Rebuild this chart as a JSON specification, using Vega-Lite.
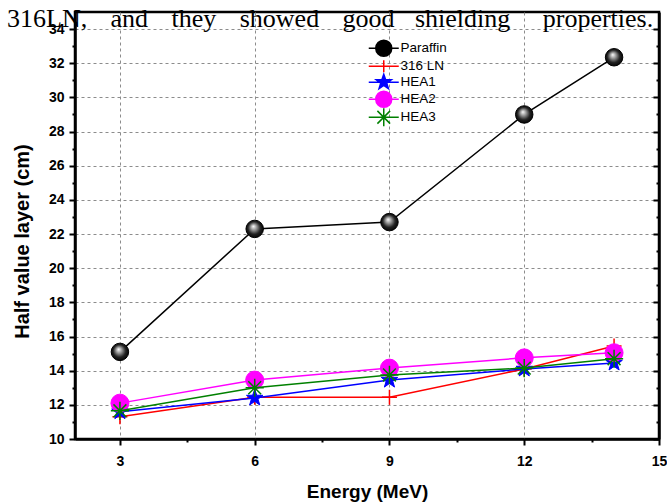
{
  "$schema": "https://vega.github.io/schema/vega-lite/v6.json",
  "width": 584,
  "height": 427,
  "autosize": {"type": "none"},
  "padding": {"left": 75, "top": 12, "right": 8, "bottom": 65},
  "background": "white",
  "title": {
    "text": "316LN,\u2002\u2009\u2009and\u2002\u2009\u2009they\u2002\u2009\u2009showed\u2002\u2009\u2009good\u2002\u2009\u200ashielding\u2002\u2002\u00a0properties.",
    "font": "Liberation Serif",
    "fontSize": 26,
    "fontWeight": "normal",
    "color": "black",
    "anchor": "start",
    "frame": "group",
    "dx": -68,
    "baseline": "alphabetic",
    "offset": -41
  },
  "config": {
    "view": {"stroke": "black", "strokeWidth": 2.5},
    "font": "Liberation Sans"
  },
  "data": {
    "values": [
      {"series": "Paraffin", "energy": 3, "hvl": 15.1},
      {"series": "Paraffin", "energy": 6, "hvl": 22.3},
      {"series": "Paraffin", "energy": 9, "hvl": 22.7},
      {"series": "Paraffin", "energy": 12, "hvl": 29.0},
      {"series": "Paraffin", "energy": 14, "hvl": 32.35},
      {"series": "316 LN", "energy": 3, "hvl": 11.3},
      {"series": "316 LN", "energy": 6, "hvl": 12.45},
      {"series": "316 LN", "energy": 9, "hvl": 12.45},
      {"series": "316 LN", "energy": 12, "hvl": 14.1},
      {"series": "316 LN", "energy": 14, "hvl": 15.45},
      {"series": "HEA1", "energy": 3, "hvl": 11.6},
      {"series": "HEA1", "energy": 6, "hvl": 12.4},
      {"series": "HEA1", "energy": 9, "hvl": 13.45},
      {"series": "HEA1", "energy": 12, "hvl": 14.1},
      {"series": "HEA1", "energy": 14, "hvl": 14.45},
      {"series": "HEA2", "energy": 3, "hvl": 12.1},
      {"series": "HEA2", "energy": 6, "hvl": 13.45},
      {"series": "HEA2", "energy": 9, "hvl": 14.15},
      {"series": "HEA2", "energy": 12, "hvl": 14.75},
      {"series": "HEA2", "energy": 14, "hvl": 15.05},
      {"series": "HEA3", "energy": 3, "hvl": 11.65},
      {"series": "HEA3", "energy": 6, "hvl": 13.0},
      {"series": "HEA3", "energy": 9, "hvl": 13.75},
      {"series": "HEA3", "energy": 12, "hvl": 14.15},
      {"series": "HEA3", "energy": 14, "hvl": 14.7}
    ]
  },
  "encoding": {
    "x": {
      "field": "energy",
      "type": "quantitative",
      "scale": {"domain": [2, 15], "nice": false, "zero": false},
      "axis": {
        "title": "Energy (MeV)",
        "values": [3, 4.5, 6, 7.5, 9, 10.5, 12, 13.5, 15],
        "labelExpr": "datum.value % 3 === 0 ? datum.label : ''",
        "labelOverlap": false,
        "labelFlush": false,
        "tickSize": {"condition": {"test": "datum.value % 3 !== 0", "value": 3}, "value": 6},
        "tickWidth": 2,
        "tickColor": "black",
        "domainColor": "black",
        "domainWidth": 2.5,
        "grid": true,
        "gridOpacity": {"condition": {"test": "datum.value % 3 !== 0 || datum.value === 15", "value": 0}, "value": 1},
        "gridDash": [3, 3],
        "gridColor": "#8c8c8c",
        "gridWidth": 1,
        "labelFont": "Liberation Sans",
        "labelFontWeight": "bold",
        "labelFontSize": 14,
        "labelColor": "black",
        "labelPadding": 9,
        "titleFont": "Liberation Sans",
        "titleFontWeight": "bold",
        "titleFontSize": 19,
        "titleColor": "black",
        "titleBaseline": "alphabetic",
        "titleY": 58
      }
    },
    "y": {
      "field": "hvl",
      "type": "quantitative",
      "scale": {"domain": [10, 35], "nice": false, "zero": false},
      "axis": null
    }
  },
  "layer": [
    {
      "transform": [{"filter": "datum.series === 'Paraffin'"}],
      "mark": {"type": "line", "strokeWidth": 1.5, "color": "#000000"},
      "encoding": {
        "y": {
          "field": "hvl",
          "type": "quantitative",
          "scale": {"domain": [10, 35], "nice": false, "zero": false},
          "axis": {
            "orient": "left",
            "title": "Half value layer (cm)",
            "values": [10, 11, 12, 13, 14, 15, 16, 17, 18, 19, 20, 21, 22, 23, 24, 25, 26, 27, 28, 29, 30, 31, 32, 33, 34],
            "labelExpr": "datum.value % 2 === 0 ? datum.label : ''",
            "labelOverlap": false,
            "labelFlush": false,
            "tickSize": {"condition": {"test": "datum.value % 2 !== 0", "value": 3}, "value": 6},
            "tickWidth": 2,
            "tickColor": "black",
            "domainColor": "black",
            "domainWidth": 2.5,
            "grid": true,
            "gridOpacity": {"condition": {"test": "datum.value % 2 !== 0 || datum.value === 10", "value": 0}, "value": 1},
            "gridDash": [3, 3],
            "gridColor": "#8c8c8c",
            "gridWidth": 1,
            "labelFont": "Liberation Sans",
            "labelFontWeight": "bold",
            "labelFontSize": 14,
            "labelColor": "black",
            "labelPadding": 5,
            "titleFont": "Liberation Sans",
            "titleFontWeight": "bold",
            "titleFontSize": 20,
            "titleColor": "black",
            "titleBaseline": "middle",
            "titleX": -53,
            "titleY": 229
          }
        }
      }
    },
    {
      "transform": [{"filter": "datum.series === 'Paraffin'"}],
      "mark": {
        "type": "point",
        "shape": "circle",
        "size": 306,
        "filled": true,
        "opacity": 1,
        "fill": {
          "gradient": "radial",
          "x1": 0.42, "y1": 0.35, "r1": 0,
          "x2": 0.5, "y2": 0.5, "r2": 0.55,
          "stops": [
            {"offset": 0, "color": "#ffffff"},
            {"offset": 0.3, "color": "#9a9a9a"},
            {"offset": 0.65, "color": "#222222"},
            {"offset": 1, "color": "#000000"}
          ]
        },
        "stroke": "black",
        "strokeWidth": 1
      }
    },
    {
      "transform": [{"filter": "datum.series === '316 LN'"}],
      "mark": {"type": "line", "strokeWidth": 1.5, "color": "#ff0000"}
    },
    {
      "transform": [{"filter": "datum.series === '316 LN'"}],
      "mark": {"type": "point", "shape": "M-1,0L1,0M0,-1L0,1", "size": 225, "filled": false, "opacity": 1, "stroke": "#ff0000", "strokeWidth": 1.5}
    },
    {
      "transform": [{"filter": "datum.series === 'HEA1'"}],
      "mark": {"type": "line", "strokeWidth": 1.5, "color": "#0000ff"}
    },
    {
      "transform": [{"filter": "datum.series === 'HEA1'"}],
      "mark": {"type": "point", "shape": "M0,-1L0.235,-0.324L0.951,-0.309L0.38,0.124L0.588,0.809L0,0.4L-0.588,0.809L-0.38,0.124L-0.951,-0.309L-0.235,-0.324Z", "size": 300, "filled": true, "opacity": 1, "fill": "#0000ff", "stroke": "#0000ff", "strokeWidth": 1}
    },
    {
      "transform": [{"filter": "datum.series === 'HEA2'"}],
      "mark": {"type": "line", "strokeWidth": 1.5, "color": "#ff00ff"}
    },
    {
      "transform": [{"filter": "datum.series === 'HEA2'"}],
      "mark": {"type": "point", "shape": "circle", "size": 324, "filled": true, "opacity": 1, "fill": "#ff00ff", "stroke": "#ff00ff", "strokeWidth": 1}
    },
    {
      "transform": [{"filter": "datum.series === 'HEA3'"}],
      "mark": {"type": "line", "strokeWidth": 1.5, "color": "#008000"}
    },
    {
      "transform": [{"filter": "datum.series === 'HEA3'"}],
      "mark": {"type": "point", "shape": "M-1,0L1,0M0,-1L0,1M-0.707,-0.707L0.707,0.707M-0.707,0.707L0.707,-0.707", "size": 330, "filled": false, "opacity": 1, "stroke": "#008000", "strokeWidth": 1.5}
    },
    {
      "mark": {"type": "point", "filled": true, "opacity": 0},
      "encoding": {
        "y": {
          "field": "hvl",
          "type": "quantitative",
          "scale": {"domain": [10, 35], "nice": false, "zero": false},
          "axis": {
            "orient": "right",
            "title": null,
            "values": [10, 11, 12, 13, 14, 15, 16, 17, 18, 19, 20, 21, 22, 23, 24, 25, 26, 27, 28, 29, 30, 31, 32, 33, 34],
            "labels": false,
            "grid": false,
            "tickSize": {"condition": {"test": "datum.value % 2 !== 0", "value": -3}, "value": -6},
            "tickWidth": 2,
            "tickColor": "black",
            "domainColor": "black",
            "domainWidth": 2.5
          }
        },
        "color": {
          "field": "series",
          "type": "nominal",
          "scale": {
            "domain": ["Paraffin", "316 LN", "HEA1", "HEA2", "HEA3"],
            "range": ["#000000", "#ff0000", "#0000ff", "#ff00ff", "#008000"]
          },
          "legend": {
            "title": null,
            "orient": "none",
            "legendX": 302,
            "legendY": 29.5,
            "padding": 0,
            "symbolSize": 100,
            "symbolOpacity": 1,
            "symbolStrokeWidth": 1.5,
            "labelFont": "Liberation Sans",
            "labelFontSize": 13.5,
            "labelColor": "black",
            "labelOffset": 10,
            "rowPadding": -7,
            "labelBaseline": "middle"
          }
        },
        "stroke": {
          "field": "series",
          "type": "nominal",
          "scale": {
            "domain": ["Paraffin", "316 LN", "HEA1", "HEA2", "HEA3"],
            "range": ["#000000", "#ff0000", "#0000ff", "#ff00ff", "#008000"]
          },
          "legend": {
            "title": null,
            "orient": "none",
            "legendX": 302,
            "legendY": 29.5,
            "padding": 0,
            "symbolSize": 100,
            "symbolOpacity": 1,
            "symbolStrokeWidth": 1.5,
            "labelFont": "Liberation Sans",
            "labelFontSize": 13.5,
            "labelColor": "black",
            "labelOffset": 10,
            "rowPadding": -7,
            "labelBaseline": "middle"
          }
        },
        "shape": {
          "field": "series",
          "type": "nominal",
          "scale": {
            "domain": ["Paraffin", "316 LN", "HEA1", "HEA2", "HEA3"],
            "range": [
              "M-3,0L3,0M1.6,0A1.6,1.6,0,1,1,-1.6,0A1.6,1.6,0,1,1,1.6,0Z",
              "M-3,0L3,0M0,-1.2L0,1.2",
              "M-3,0L3,0M0,-1.6L0.376,-0.518L1.522,-0.494L0.608,0.198L0.941,1.294L0,0.64L-0.941,1.294L-0.608,0.198L-1.522,-0.494L-0.376,-0.518Z",
              "M-3,0L3,0M1.6,0A1.6,1.6,0,1,1,-1.6,0A1.6,1.6,0,1,1,1.6,0Z",
              "M-3,0L3,0M0,-1.8L0,1.8M-1.27,-1.27L1.27,1.27M-1.27,1.27L1.27,-1.27"
            ]
          },
          "legend": {
            "title": null,
            "orient": "none",
            "legendX": 302,
            "legendY": 29.5,
            "padding": 0,
            "symbolSize": 100,
            "symbolOpacity": 1,
            "symbolStrokeWidth": 1.5,
            "labelFont": "Liberation Sans",
            "labelFontSize": 13.5,
            "labelColor": "black",
            "labelOffset": 10,
            "rowPadding": -7,
            "labelBaseline": "middle"
          }
        }
      }
    }
  ],
  "resolve": {"axis": {"y": "independent"}}
}
